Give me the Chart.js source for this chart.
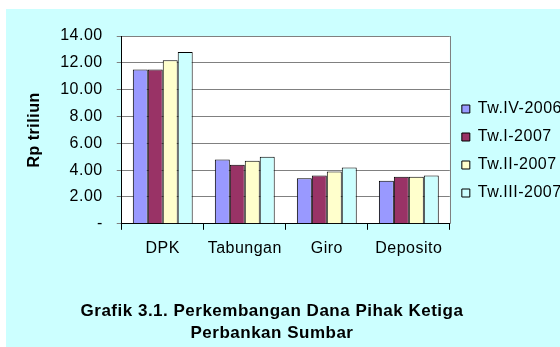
<!DOCTYPE html>
<html>
<head>
<meta charset="utf-8">
<script src="https://cdn.jsdelivr.net/npm/chart.js@4.4.1/dist/chart.umd.min.js"></script>
<style>
  html, body { margin: 0; padding: 0; background: #ffffff; overflow: hidden; }
  #wrap { position: absolute; left: 6px; top: 9px; background: #ccffff; }
</style>
</head>
<body>
<div id="wrap"><canvas id="barChart" width="566" height="338"></canvas></div>
<script>
const categories = ['DPK', 'Tabungan', 'Giro', 'Deposito'];
const seriesNames = ['Tw.IV-2006', 'Tw.I-2007', 'Tw.II-2007', 'Tw.III-2007'];
const twIV2006 = [11.5, 4.8, 3.4, 3.2];
const twI2007 = [11.5, 4.4, 3.6, 3.5];
const twII2007 = [12.2, 4.7, 3.9, 3.5];
const twIII2007 = [12.8, 5.0, 4.2, 3.6];
const barColors = ['#9999ff', '#993366', '#ffffcc', '#ccffff'];
const captionLines = ['Grafik 3.1. Perkembangan Dana Pihak Ketiga', 'Perbankan Sumbar'];

const fontFamily = '"Liberation Sans", Arial, sans-serif';

// the caption is centred on the original chart object, which is narrower than the canvas
const captionCenterX = 266;
const captionTopY = 302;
const captionLineGap = 22;

// white plot area, slight letter spacing like the old office renderer, right frame line
const plotFrame = {
    id: 'plotFrame',
    beforeUpdate(chart) {
        chart.ctx.letterSpacing = '0.5px';
    },
    beforeDraw(chart) {
        const { ctx, chartArea: a } = chart;
        ctx.letterSpacing = '0.5px';
        ctx.save();
        ctx.fillStyle = '#ffffff';
        ctx.fillRect(a.left, a.top, a.right - a.left, a.bottom - a.top);
        ctx.restore();
    },
    afterDraw(chart) {
        const { ctx, chartArea: a } = chart;
        ctx.save();
        ctx.strokeStyle = '#808080';
        ctx.lineWidth = 1;
        ctx.beginPath();
        ctx.moveTo(Math.round(a.right) + 0.5, a.top);
        ctx.lineTo(Math.round(a.right) + 0.5, a.bottom);
        ctx.stroke();

        // two-line caption under the axis
        ctx.fillStyle = '#000000';
        ctx.font = 'bold 17px ' + fontFamily;
        ctx.letterSpacing = '0.5px';
        ctx.textAlign = 'center';
        ctx.textBaseline = 'middle';
        captionLines.forEach((line, i) => {
            ctx.fillText(line, captionCenterX, captionTopY + i * captionLineGap);
        });
        ctx.restore();
    }
};

const allSeries = [twIV2006, twI2007, twII2007, twIII2007];

new Chart(document.getElementById('barChart').getContext('2d'), {
    type: 'bar',
    data: {
        labels: categories,
        datasets: allSeries.map((values, i) => ({
            label: seriesNames[i],
            data: values,
            backgroundColor: barColors[i],
            borderColor: '#000000',
            borderWidth: 1,
            categoryPercentage: 0.73,
            barPercentage: 1
        }))
    },
    options: {
        responsive: false,
        animation: false,
        devicePixelRatio: 1,
        layout: { padding: { left: 4, top: 27, right: 0, bottom: 80 } },
        plugins: {
            tooltip: { enabled: false },
            title: { display: false },
            legend: {
                position: 'right',
                align: 'start',
                title: {
                    display: true,
                    text: '',
                    font: { size: 12, lineHeight: 1 },
                    padding: { top: 41, bottom: 0 }
                },
                labels: {
                    boxWidth: 8,
                    boxHeight: 8,
                    padding: 12,
                    color: '#000000',
                    font: { family: fontFamily, size: 16 }
                }
            }
        },
        scales: {
            x: {
                grid: {
                    drawOnChartArea: false,
                    tickLength: 6,
                    color: '#000000'
                },
                border: { color: '#000000' },
                ticks: {
                    padding: 9,
                    autoSkip: false,
                    maxRotation: 0,
                    color: '#000000',
                    font: { family: fontFamily, size: 16 }
                }
            },
            y: {
                min: 0,
                max: 14,
                grid: {
                    color: '#808080',
                    tickLength: 5
                },
                border: { color: '#000000' },
                ticks: {
                    stepSize: 2,
                    padding: 14,
                    color: '#000000',
                    font: { family: fontFamily, size: 16 },
                    callback: v => v === 0 ? '-' : v.toFixed(2)
                },
                title: {
                    display: true,
                    text: 'Rp triliun',
                    color: '#000000',
                    font: { family: fontFamily, size: 16, weight: 'bold' },
                    padding: { top: 15, bottom: 2 }
                }
            }
        }
    },
    plugins: [plotFrame]
});
</script>
</body>
</html>
